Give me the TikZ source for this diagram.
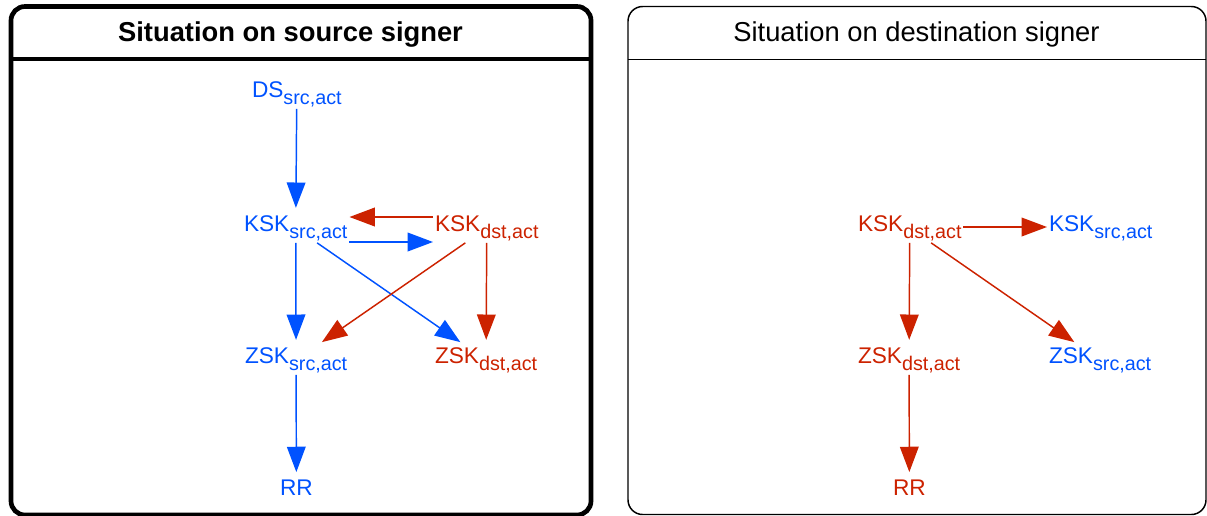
\documentclass[tikz,border=0pt]{standalone}
\usepackage{fontspec}
\setmainfont{Liberation Sans}
\usetikzlibrary{arrows.meta}
\definecolor{kblue}{RGB}{0,82,255}
\definecolor{kred}{RGB}{204,34,0}
\newcommand\keylbl[2]{#1{\fontsize{14.8pt}{14.8pt}\selectfont\raisebox{-5.5pt}{#2}}}
\begin{document}
\begin{tikzpicture}[x=0.75pt,y=-0.75pt,
  key/.style={inner sep=1.5pt, outer sep=0pt, anchor=base west, font=\fontsize{17pt}{17pt}\selectfont},
  bluek/.style={key, text=kblue},
  redk/.style={key, text=kred},
  arr/.style={line width=1.1pt, -{Triangle[length=19pt,width=14pt]}, shorten >=4pt},
  barr/.style={arr, draw=kblue},
  rarr/.style={arr, draw=kred},
  flat/.style={shorten >=0pt},
  title/.style={anchor=base, font=\fontsize{20.5pt}{20.5pt}\selectfont},
  frame/.style={line width=#1, draw=black},
]
\useasboundingbox (0,0) rectangle (1207,515);

% panels
\draw[frame=3.5pt, rounded corners=10.5pt] (11,6.5) rectangle (591,515);
\draw[frame=3.5pt] (11,59) -- (591,59);
\draw[frame=1.1pt, rounded corners=11pt] (628,6.5) rectangle (1206,514.5);
\draw[frame=1.1pt] (628,59.3) -- (1206,59.3);

\node[title, font=\fontsize{20.5pt}{20.5pt}\selectfont\bfseries] (t1) at (290.5,41) {Situation on source signer};
\node[title] (t2) at (916.5,41) {Situation on destination signer};

% left panel
\node[bluek] (ds)   at (250,97)  {\keylbl{DS}{src,act}};
\node[bluek] (ksks) at (242,231) {\keylbl{KSK}{src,act}};
\node[redk]  (kskd) at (433,231) {\keylbl{KSK}{dst,act}};
\node[bluek] (zsks) at (243,363) {\keylbl{ZSK}{src,act}};
\node[redk]  (zskd) at (433,363) {\keylbl{ZSK}{dst,act}};
\node[bluek] (rr)   at (278,495) {RR};

\draw[barr] (ds) -- (ksks);
\draw[rarr, flat] ([yshift=10.5pt]kskd.base west) -- ([yshift=10.5pt]ksks.base east);
\draw[barr, flat] ([yshift=-8.25pt]ksks.base east) -- ([yshift=-8.25pt]kskd.base west);
\draw[barr] (ksks) -- (zsks);
\draw[barr] (ksks) -- (zskd);
\draw[rarr] (kskd) -- (zsks);
\draw[rarr] (kskd) -- (zskd);
\draw[barr] (zsks) -- (rr);

% right panel
\node[redk]  (kskd2) at (856,231)  {\keylbl{KSK}{dst,act}};
\node[bluek] (ksks2) at (1047,231) {\keylbl{KSK}{src,act}};
\node[redk]  (zskd2) at (856,363)  {\keylbl{ZSK}{dst,act}};
\node[bluek] (zsks2) at (1047,363) {\keylbl{ZSK}{src,act}};
\node[redk]  (rr2)   at (891,495)  {RR};

\draw[rarr, flat] ([yshift=3pt]kskd2.base east) -- ([yshift=3pt]ksks2.base west);
\draw[rarr] (kskd2) -- (zskd2);
\draw[rarr] (kskd2) -- (zsks2);
\draw[rarr] (zskd2) -- (rr2);
\end{tikzpicture}
\end{document}
